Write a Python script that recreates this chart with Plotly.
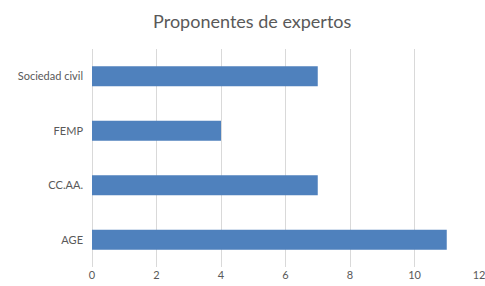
import plotly.graph_objects as go

categories = ["AGE", "CC.AA.", "FEMP", "Sociedad civil"]
values = [11, 7, 4, 7]
x_ticks = [0, 2, 4, 6, 8, 10, 12]

fig = go.Figure(go.Bar(
    x=values, y=categories, orientation="h",
    marker=dict(color="#4F81BD", line=dict(width=0)),
    width=0.37,
))

fig.update_layout(
    width=485, height=286,
    margin=dict(l=92, r=6, t=49, b=19),
    paper_bgcolor="white", plot_bgcolor="white",
    title=dict(text="Proponentes de expertos", x=0.52, xanchor="center",
               y=0.925, yanchor="middle",
               font=dict(family="Lato, Open Sans, sans-serif", size=18, color="#595959")),
    font=dict(family="Lato, Open Sans, sans-serif", size=11, color="#595959"),
    showlegend=False,
    xaxis=dict(range=[0, 12], tickvals=x_ticks, showgrid=True, gridcolor="#D9D9D9",
               gridwidth=1, zeroline=True, zerolinecolor="#D9D9D9", zerolinewidth=1,
               showline=False, ticks="", automargin=False, ticklabeloverflow="allow",
               tickfont=dict(size=11, color="#595959")),
    yaxis=dict(categoryorder="array", categoryarray=categories, range=[-0.5, 3.5],
               showgrid=False, zeroline=False, showline=False, ticks="",
               automargin=False, ticklabelstandoff=8,
               tickfont=dict(size=11, color="#595959")),
)

fig.write_html("out.html", config={"displayModeBar": False})

# remove default browser body margin so the figure sits at the window's corner
with open("out.html", "r", encoding="utf-8") as f:
    html = f.read()
html = html.replace("<head>", "<head><style>html,body{margin:0;padding:0;overflow:hidden;}</style>", 1)
with open("out.html", "w", encoding="utf-8") as f:
    f.write(html)
